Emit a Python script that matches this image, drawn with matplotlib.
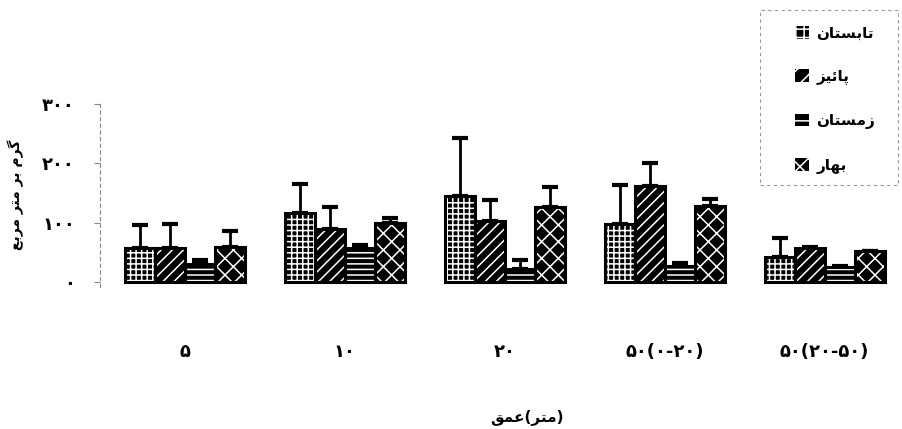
import numpy as np
import matplotlib
matplotlib.use('Agg')
import matplotlib.pyplot as plt
from matplotlib.patches import Rectangle

plt.rcParams['font.family'] = ['DejaVu Sans']
plt.rcParams['hatch.linewidth'] = 1.1

# داده ها (گرم بر متر مربع)
depths = ['۵', '۱۰', '۲۰', '۵۰(۰-۲۰)', '۵۰(۲۰-۵۰)']
seasons = ['تابستان', 'پائیز', 'زمستان', 'بهار']
summer = [58, 117, 145, 98, 42]
autumn = [58, 90, 103, 162, 57]
winter = [30, 57, 23, 27, 25]
spring = [60, 100, 127, 128, 52]
summer_err = [39, 48, 97, 65, 33]
autumn_err = [40, 37, 35, 38, 3]
winter_err = [7, 6, 15, 5, 3]
spring_err = [27, 8, 33, 12, 0]
yticks = [0, 100, 200, 300]
ytick_labels = ['۰', '۱۰۰', '۲۰۰', '۳۰۰']

# شکل حروف عربی (ساده) چون matplotlib حروف را نمی چسباند
FORMS = {
    'ا': ('\uFE8D', '\uFE8E', None, None),
    'ب': ('\uFE8F', '\uFE90', '\uFE91', '\uFE92'),
    'ت': ('\uFE95', '\uFE96', '\uFE97', '\uFE98'),
    'پ': ('\uFB56', '\uFB57', '\uFB58', '\uFB59'),
    'س': ('\uFEB1', '\uFEB2', '\uFEB3', '\uFEB4'),
    'ن': ('\uFEE5', '\uFEE6', '\uFEE7', '\uFEE8'),
    'ئ': ('\uFE89', '\uFE8A', '\uFE8B', '\uFE8C'),
    'ی': ('\uFBFC', '\uFBFD', '\uFBFE', '\uFBFF'),
    'ز': ('\uFEAF', '\uFEB0', None, None),
    'م': ('\uFEE1', '\uFEE2', '\uFEE3', '\uFEE4'),
    'ه': ('\uFEE9', '\uFEEA', '\uFEEB', '\uFEEC'),
    'ر': ('\uFEAD', '\uFEAE', None, None),
    'گ': ('\uFB92', '\uFB93', '\uFB94', '\uFB95'),
    'ع': ('\uFEC9', '\uFECA', '\uFECB', '\uFECC'),
    'ق': ('\uFED5', '\uFED6', '\uFED7', '\uFED8'),
}


def shape(word):
    out = []
    for i, ch in enumerate(word):
        iso, fin, ini, med = FORMS[ch]
        prev_j = i > 0 and FORMS[word[i - 1]][2] is not None
        next_j = i < len(word) - 1 and ini is not None
        if prev_j and next_j:
            out.append(med)
        elif prev_j:
            out.append(fin)
        elif next_j:
            out.append(ini)
        else:
            out.append(iso)
    return ''.join(reversed(out))


def rtl(text):
    return ' '.join(shape(w) for w in reversed(text.split()))


fig = plt.figure(figsize=(9.03, 4.29), dpi=100)
ax = fig.add_axes([0.1107, 0.331, 0.8804, 0.4266])

x = np.arange(len(depths))
w = 0.1875
series = [summer, autumn, winter, spring]
errs = [summer_err, autumn_err, winter_err, spring_err]
hatches = ['+++', '///', '---', 'xx']

handles = []
for j in range(4):
    pos = x + (j - 1.5) * w
    ax.bar(pos, series[j], w, color='black', linewidth=0, zorder=2)
    ax.bar(pos, series[j], w, facecolor='none', edgecolor='white', hatch=hatches[j],
           linewidth=0, zorder=3)
    ax.bar(pos, series[j], w, fill=False, edgecolor='black', linewidth=2.2, zorder=4)
    ax.errorbar(pos, series[j], yerr=[np.zeros(5), errs[j]], fmt='none', ecolor='black',
                elinewidth=2, capsize=6, capthick=3, zorder=1)
    handles.append(Rectangle((0, 0), 1, 1, facecolor='black', edgecolor='white',
                             hatch=hatches[j][:2], linewidth=0))

ax.set_xlim(-0.53, 4.44)
ax.set_ylim(-8, 300)
ax.set_yticks(yticks)
ax.set_yticklabels(ytick_labels, fontsize=13, fontweight='bold')
ax.set_xticks(x)
ax.set_xticklabels(depths, fontsize=13, fontweight='bold')
ax.tick_params(axis='y', length=4, width=0.8, color='#888888', pad=14)
ax.tick_params(axis='x', length=0, pad=40)
for s in ['top', 'right', 'bottom']:
    ax.spines[s].set_visible(False)
ax.spines['left'].set_linestyle((0, (3, 3)))
ax.spines['left'].set_color('#888888')
ax.spines['left'].set_linewidth(0.8)

fig.text(0.584, 0.028, shape('عمق') + '(' + shape('متر') + ')', ha='center', va='center',
         fontsize=11, fontweight='bold')
fig.text(0.017, 0.545, rtl('گرم بر متر مربع'), rotation=90, ha='center', va='center',
         fontsize=10, fontweight='bold')

ax.legend(handles, [rtl(s) for s in seasons], loc='upper left',
          bbox_to_anchor=(0.872, 0.958), bbox_transform=fig.transFigure,
          frameon=False, handlelength=0.9, handleheight=0.9, handletextpad=0.5,
          labelspacing=1.85, borderpad=0, prop={'size': 11, 'weight': 'bold'})
fig.patches.append(Rectangle((0.8416, 0.5688), 0.1528, 0.408, transform=fig.transFigure,
                             fill=False, edgecolor='#999999', linewidth=0.8,
                             linestyle=(0, (3, 3))))

fig.savefig('out.png', dpi=100)
